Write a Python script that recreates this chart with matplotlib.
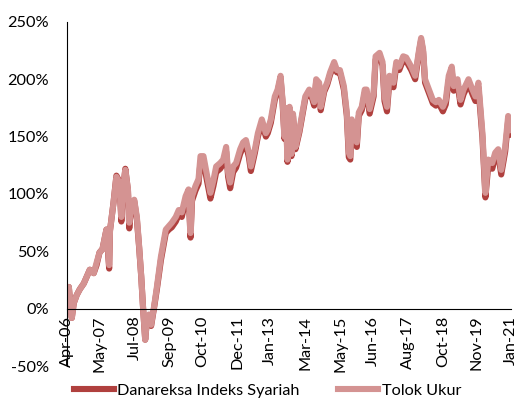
import matplotlib.pyplot as plt
import matplotlib.ticker as mtick
import pandas as pd

plt.rcParams['font.family'] = ['Lato', 'DejaVu Sans']

# tanggal pengamatan
tanggal = [
    "2006-04-01", "2006-04-12", "2006-04-24", "2006-05-18", "2006-05-30", "2006-06-23", "2006-07-29", "2006-09-04", "2006-10-22", "2006-11-27",
    "2007-01-03", "2007-02-20", "2007-03-26", "2007-05-01", "2007-06-06", "2007-07-24", "2007-08-26", "2007-09-05", "2007-10-17", "2007-11-22",
    "2007-12-28", "2008-01-21", "2008-02-11", "2008-03-09", "2008-04-10", "2008-04-26", "2008-05-20", "2008-06-25", "2008-07-27", "2008-08-24",
    "2008-09-18", "2008-10-11", "2008-11-05", "2008-11-29", "2008-12-22", "2009-01-16", "2009-02-21", "2009-03-27", "2009-05-14", "2009-06-20",
    "2009-07-13", "2009-08-19", "2009-09-24", "2009-11-11", "2009-12-17", "2010-01-23", "2010-03-10", "2010-04-15", "2010-05-09", "2010-05-27",
    "2010-07-08", "2010-08-14", "2010-09-07", "2010-10-13", "2010-11-18", "2011-01-05", "2011-02-11", "2011-03-16", "2011-05-04", "2011-06-09",
    "2011-07-15", "2011-08-08", "2011-09-02", "2011-10-08", "2011-11-13", "2012-01-01", "2012-02-06", "2012-03-11", "2012-04-16", "2012-05-10",
    "2012-06-28", "2012-08-03", "2012-09-20", "2012-11-08", "2012-12-01", "2013-01-07", "2013-02-24", "2013-03-30", "2013-05-05", "2013-05-29",
    "2013-06-22", "2013-07-10", "2013-07-28", "2013-08-22", "2013-09-15", "2013-10-03", "2013-11-02", "2013-12-20", "2014-01-26", "2014-03-01",
    "2014-04-18", "2014-05-12", "2014-06-17", "2014-07-11", "2014-08-16", "2014-09-04", "2014-10-16", "2014-11-21", "2014-12-27", "2015-02-14",
    "2015-03-20", "2015-04-25", "2015-06-12", "2015-07-18", "2015-08-11", "2015-08-29", "2015-09-16", "2015-10-22", "2015-11-16", "2015-12-10",
    "2016-01-15", "2016-02-20", "2016-03-14", "2016-04-20", "2016-06-07", "2016-07-01", "2016-08-18", "2016-09-23", "2016-10-17", "2016-11-16",
    "2016-12-16", "2017-02-03", "2017-03-09", "2017-04-14", "2017-06-01", "2017-07-07", "2017-09-06", "2017-10-24", "2017-12-11", "2018-01-04",
    "2018-01-28", "2018-02-21", "2018-04-09", "2018-05-26", "2018-07-02", "2018-08-07", "2018-09-25", "2018-10-30", "2018-12-05", "2019-01-11",
    "2019-02-04", "2019-03-22", "2019-04-27", "2019-06-03", "2019-08-02", "2019-09-19", "2019-10-25", "2019-11-30", "2020-01-18", "2020-02-23",
    "2020-03-29", "2020-05-16", "2020-06-21", "2020-07-27", "2020-09-02", "2020-10-20", "2020-11-25", "2021-01-08",
]

# kinerja kumulatif tolok ukur (%)
tolok_ukur = [
    0, 10, 19, -1, -8, 5, 12, 17, 22, 28,
    34, 31, 40, 49, 52, 69, 38, 68, 92, 115,
    110, 80, 104, 121, 104, 75, 92, 95, 80, 54,
    28, 0, -27, -8, -5, -14, 2, 19, 45, 60,
    69, 72, 75, 80, 86, 84, 98, 104, 66, 98,
    107, 113, 133, 133, 119, 101, 112, 124, 127, 130,
    141, 119, 110, 124, 127, 139, 145, 147, 136, 124,
    139, 153, 165, 153, 156, 165, 185, 191, 203, 182,
    150, 175, 130, 176, 135, 170, 141, 156, 171, 185,
    191, 188, 180, 200, 197, 176, 191, 197, 206, 215,
    208, 208, 194, 171, 136, 133, 165, 150, 145, 171,
    176, 191, 191, 174, 188, 220, 223, 215, 185, 176,
    203, 197, 215, 211, 220, 219, 211, 203, 226, 236,
    226, 200, 191, 182, 180, 182, 176, 182, 203, 211,
    194, 200, 182, 191, 200, 191, 185, 197, 153, 101,
    130, 127, 136, 139, 121, 141, 168, 156,
]

# kinerja kumulatif Danareksa Indeks Syariah (%)
danareksa = [
    0, 10, 19, -1, -8, 5, 12, 17, 22, 28,
    34, 31, 38, 49, 52, 69, 35, 68, 92, 116,
    111, 76, 104, 122, 103, 70, 91, 94, 78, 53,
    28, 0, -27, -8, -6, -15, 1, 17, 42, 57,
    66, 69, 71, 76, 82, 80, 94, 100, 62, 94,
    103, 109, 128, 129, 114, 96, 107, 119, 122, 126,
    137, 115, 105, 119, 123, 135, 141, 143, 132, 120,
    136, 150, 162, 150, 153, 162, 182, 189, 201, 180,
    148, 172, 128, 174, 133, 168, 139, 154, 169, 183,
    189, 186, 177, 198, 195, 173, 189, 195, 204, 213,
    206, 206, 191, 168, 132, 130, 162, 146, 141, 168,
    173, 188, 188, 170, 185, 217, 220, 212, 181, 172,
    199, 193, 212, 208, 217, 216, 208, 200, 224, 234,
    224, 197, 188, 179, 177, 179, 172, 178, 199, 207,
    190, 196, 178, 187, 196, 187, 181, 193, 149, 97,
    125, 122, 132, 135, 117, 137, 164, 152,
]

label_sumbu = ['Apr-06', 'May-07', 'Jul-08', 'Sep-09', 'Oct-10', 'Dec-11', 'Jan-13',
               'Mar-14', 'May-15', 'Jun-16', 'Aug-17', 'Oct-18', 'Nov-19', 'Jan-21']

tgl = pd.to_datetime(tanggal)
tick_tgl = pd.to_datetime(label_sumbu, format='%b-%y')

fig = plt.figure(figsize=(5.19, 4.05), dpi=100)
ax = fig.add_axes([0.129, 0.096, 0.856, 0.85])

ax.plot(tgl, danareksa, color='#b0403e', lw=4.4, label='Danareksa Indeks Syariah',
        solid_joinstyle='round')
ax.plot(tgl, tolok_ukur, color='#d49392', lw=4.4, label='Tolok Ukur',
        solid_joinstyle='round')

ax.set_ylim(-50, 250)
ax.set_yticks(range(-50, 251, 50))
ax.yaxis.set_major_formatter(mtick.FuncFormatter(lambda v, p: f'{v:.0f}%'))
ax.set_xlim(tick_tgl[0], tick_tgl[-1])
ax.set_xticks(tick_tgl)
ax.set_xticklabels(label_sumbu)

ax.spines['top'].set_visible(False)
ax.spines['right'].set_visible(False)
ax.spines['bottom'].set_position(('data', 0))
ax.tick_params(axis='both', length=0, labelsize=11.7, colors='#000000')
ax.tick_params(axis='y', pad=13)
ax.tick_params(axis='x', pad=5, labelrotation=90)

fig.legend(loc='lower center', bbox_to_anchor=(0.515, -0.018), ncol=2, frameon=False,
           fontsize=11.7, handlelength=2.46, columnspacing=2.4, handletextpad=0.2)

fig.savefig('out.png', dpi=100)
